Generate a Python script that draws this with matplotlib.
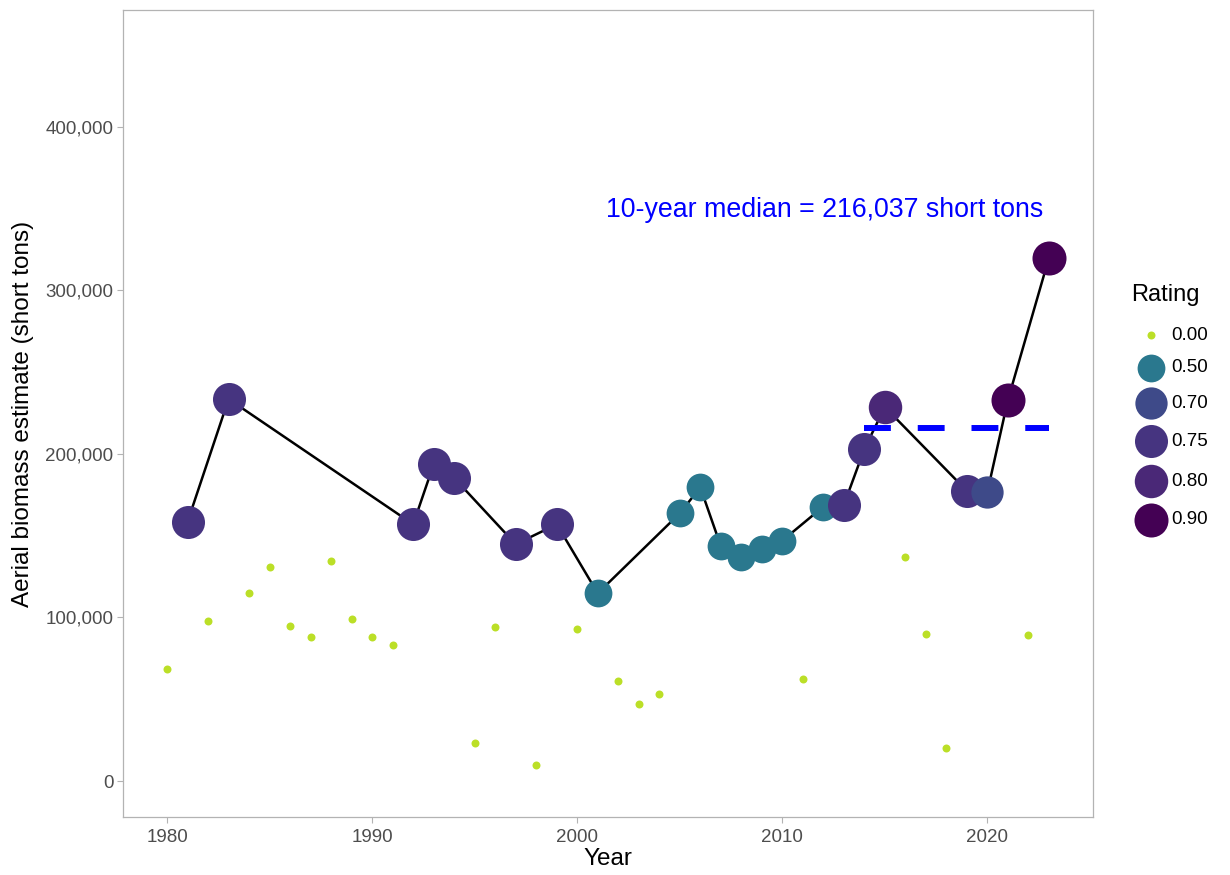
import matplotlib
matplotlib.use("Agg")
import matplotlib.pyplot as plt
from matplotlib.ticker import FuncFormatter

plt.rcParams['font.family'] = ['Liberation Sans', 'DejaVu Sans']

# Rated surveys (connected by line)
rated_years = [1981, 1983, 1992, 1993, 1994, 1997, 1999, 2001, 2005, 2006, 2007, 2008,
               2009, 2010, 2012, 2013, 2014, 2015, 2019, 2020, 2021, 2023]
rated_values = [158600, 233600, 157000, 193700, 185300, 144800, 157000, 114800, 163700,
                179600, 143700, 136800, 142100, 147000, 167800, 168800, 203000, 228700,
                177400, 176800, 233000, 319900]
rated_ratings = [0.75, 0.75, 0.75, 0.75, 0.75, 0.75, 0.75, 0.50, 0.50, 0.50, 0.50, 0.50,
                 0.50, 0.50, 0.50, 0.75, 0.75, 0.80, 0.75, 0.70, 0.90, 0.90]

# Unrated surveys (rating 0.00)
zero_years = [1980, 1982, 1984, 1985, 1986, 1987, 1988, 1989, 1990, 1991, 1995, 1996,
              1998, 2000, 2002, 2003, 2004, 2011, 2016, 2017, 2018, 2022]
zero_values = [68500, 97700, 114800, 131100, 94600, 88300, 134600, 98800, 88100, 83000,
               23200, 94000, 9800, 93000, 61200, 46900, 53400, 62200, 137000, 90000,
               20200, 89300]

rating_levels = [0.00, 0.50, 0.70, 0.75, 0.80, 0.90]
rating_labels = ["0.00", "0.50", "0.70", "0.75", "0.80", "0.90"]
rating_colors = ["#BBDF27", "#2A788E", "#3E4A89", "#463480", "#4A2877", "#440154"]
rating_sizes = [33, 400, 540, 566, 580, 600]

median_years = [2014, 2023]
median_value = 216037
median_label = "10-year median = 216,037 short tons"

y_ticks = [0, 100000, 200000, 300000, 400000]
x_ticks = [1980, 1990, 2000, 2010, 2020]

cmap = dict(zip(rating_levels, rating_colors))
smap = dict(zip(rating_levels, rating_sizes))

W, H = 1230, 875
fig = plt.figure(figsize=(W / 100, H / 100), dpi=100)
ax = fig.add_axes([123 / W, 1 - 817 / H, (1093 - 123) / W, (817 - 10) / H])

# unrated points
ax.scatter(zero_years, zero_values, s=smap[0.0], c=cmap[0.0], linewidths=0, zorder=3)
# line
ax.plot(rated_years, rated_values, color="black", lw=1.8, zorder=2)
# rated points in order
for yr, v, r in zip(rated_years, rated_values, rated_ratings):
    ax.scatter([yr], [v], s=smap[r], c=cmap[r], linewidths=0, zorder=3)

# median line
ax.plot(median_years, [median_value, median_value], color="#0000FF", lw=4.3,
        dashes=(4.5, 4.5), solid_capstyle="butt", dash_capstyle="butt", zorder=4)
ax.text(2012.05, 349000, median_label, color="#0000FF", fontsize=19.3,
        ha="center", va="center")

ax.set_xlim(1977.85, 2025.15)
ax.set_ylim(-22000, 471500)
ax.set_xticks(x_ticks)
ax.set_yticks(y_ticks)
ax.yaxis.set_major_formatter(FuncFormatter(lambda v, p: f"{int(v):,}"))
ax.tick_params(axis="both", colors="#B3B3B3", labelcolor="#4D4D4D", labelsize=13.5,
               length=4, width=0.8)
ax.tick_params(axis="x", pad=5)
ax.tick_params(axis="y", pad=3)
for sp in ax.spines.values():
    sp.set_color("#B3B3B3")
    sp.set_linewidth(0.9)
ax.set_xlabel("Year", fontsize=17.5, labelpad=1)
ax.set_ylabel("Aerial biomass estimate (short tons)", fontsize=17.5, labelpad=8)

# legend (drawn in a pixel-space overlay)
lax = fig.add_axes([0, 0, 1, 1], zorder=5)
lax.set_xlim(0, W)
lax.set_ylim(H, 0)
lax.axis("off")
lax.text(1131, 295, "Rating", fontsize=17, ha="left", va="center")
key_y = [335, 368, 403, 441, 481, 520]
for ky, col, sz, lab in zip(key_y, rating_colors, rating_sizes, rating_labels):
    lax.scatter([1151], [ky], s=sz, c=col, linewidths=0)
    lax.text(1171, ky, lab, fontsize=13.5, ha="left", va="center")

fig.savefig("out.png", dpi=100)
